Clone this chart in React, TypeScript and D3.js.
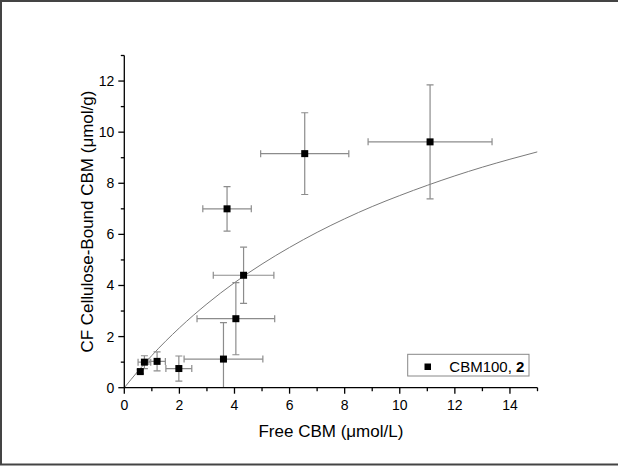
import React from "react";
import * as d3 from "d3";

const width = 618;
const height = 466;

// scatter points
const freeCbm = [0.58, 0.73, 1.19, 1.98, 3.6, 4.05, 4.33, 3.73, 6.55, 11.1];
const boundCbm = [0.63, 1.0, 1.03, 0.75, 1.12, 2.7, 4.4, 7.0, 9.16, 9.62];
const freeErr = [0.08, 0.23, 0.3, 0.47, 1.43, 1.41, 1.1, 0.88, 1.6, 2.25];
const boundErr = [0.08, 0.25, 0.37, 0.49, 1.43, 1.41, 1.1, 0.87, 1.6, 2.23];

// fitted curve, sampled off the figure
const fitX = [0, 0.5, 1, 2, 3, 4, 5, 6, 7, 8, 9, 10, 11, 12, 13, 14, 15];
const fitY = [0, 0.65, 1.26, 2.34, 3.28, 4.11, 4.84, 5.49, 6.08, 6.61, 7.09, 7.52, 7.92, 8.29, 8.63, 8.94, 9.23];

const xTicks = [0, 2, 4, 6, 8, 10, 12, 14];
const xMinor = [1, 3, 5, 7, 9, 11, 13, 15];
const yTicks = [0, 2, 4, 6, 8, 10, 12];
const yMinor = [1, 3, 5, 7, 9, 11, 13];

const font = "'Liberation Sans', Arial, sans-serif";

const x = d3.scaleLinear().domain([0, 15]).range([124.3, 537.5]);
const y = d3.scaleLinear().domain([0, 13]).range([387.7, 55.5]);

const line = d3
  .line<number>()
  .x((d, i) => x(fitX[i]))
  .y(d => y(d))
  .curve(d3.curveMonotoneX);

export default function App() {
  const x0 = x.range()[0];
  const y0 = y.range()[0];
  const cap = 3.5;
  const errColor = "#8c8c8c";

  return (
    <svg
      width={width}
      height={height}
      style={{ position: "absolute", left: 0, top: 0, background: "#fff" }}
      fontFamily={font}
    >
      <defs>
        <clipPath id="plot">
          <rect x={x0} y={y.range()[1]} width={x.range()[1] - x0} height={y0 - y.range()[1]} />
        </clipPath>
      </defs>

      {/* frame */}
      <line x1={0} y1={1} x2={width} y2={1} stroke="#444" strokeWidth={2} />
      <line x1={1} y1={0} x2={1} y2={465} stroke="#444" strokeWidth={2} />
      <line x1={0} y1={464.5} x2={width} y2={464.5} stroke="#444" strokeWidth={2} />

      {/* fit */}
      <path d={line(fitY) || ""} fill="none" stroke="#7a7a7a" strokeWidth={1} clipPath="url(#plot)" />

      {/* error bars */}
      <g stroke={errColor} strokeWidth={1.2} clipPath="url(#plot)">
        {freeCbm.map((fx, i) => {
          const cx = x(fx);
          const cy = y(boundCbm[i]);
          const xl = x(fx - freeErr[i]);
          const xr = x(fx + freeErr[i]);
          const yt = y(boundCbm[i] + boundErr[i]);
          const yb = y(boundCbm[i] - boundErr[i]);
          return (
            <g key={i}>
              <line x1={xl} x2={xr} y1={cy} y2={cy} />
              <line x1={xl} x2={xl} y1={cy - cap} y2={cy + cap} />
              <line x1={xr} x2={xr} y1={cy - cap} y2={cy + cap} />
              <line x1={cx} x2={cx} y1={yt} y2={yb} />
              <line x1={cx - cap} x2={cx + cap} y1={yt} y2={yt} />
              <line x1={cx - cap} x2={cx + cap} y1={yb} y2={yb} />
            </g>
          );
        })}
      </g>

      {/* markers */}
      {freeCbm.map((fx, i) => (
        <rect key={i} x={x(fx) - 3.5} y={y(boundCbm[i]) - 3.5} width={7} height={7} fill="#000" />
      ))}

      {/* axes */}
      <g stroke="#000" strokeWidth={1.3}>
        <line x1={x0} x2={x.range()[1]} y1={y0} y2={y0} />
        <line x1={x0} x2={x0} y1={y0} y2={y.range()[1]} />
        {xTicks.map(t => (
          <line key={"xt" + t} x1={x(t)} x2={x(t)} y1={y0} y2={y0 + 6} />
        ))}
        {xMinor.map(t => (
          <line key={"xm" + t} x1={x(t)} x2={x(t)} y1={y0} y2={y0 + 3.5} />
        ))}
        {yTicks.map(t => (
          <line key={"yt" + t} x1={x0} x2={x0 - 6} y1={y(t)} y2={y(t)} />
        ))}
        {yMinor.map(t => (
          <line key={"ym" + t} x1={x0} x2={x0 - 3.5} y1={y(t)} y2={y(t)} />
        ))}
      </g>
      {xTicks.map(t => (
        <text key={"xl" + t} x={x(t)} y={y0 + 22.5} fontSize={14} textAnchor="middle" fill="#000">
          {t}
        </text>
      ))}
      {yTicks.map(t => (
        <text key={"yl" + t} x={x0 - 10} y={y(t) + 5} fontSize={14} textAnchor="end" fill="#000">
          {t}
        </text>
      ))}

      <text x={(x0 + x.range()[1]) / 2} y={437} fontSize={17} textAnchor="middle" fill="#000">
        Free CBM (μmol/L)
      </text>
      <text
        transform={`translate(${93},${(y0 + y.range()[1]) / 2}) rotate(-90)`}
        fontSize={17}
        textAnchor="middle"
        fill="#000"
      >
        CF Cellulose-Bound CBM (μmol/g)
      </text>

      {/* legend */}
      <rect x={407.7} y={354.3} width={121.3} height={21.7} fill="#fff" stroke="#888" strokeWidth={1} />
      <rect x={424.5} y={363.5} width={6.5} height={6.5} fill="#000" />
      <text x={449.3} y={371.7} fontSize={15} fill="#000">
        CBM100, <tspan fontWeight="bold">2</tspan>
      </text>
    </svg>
  );
}
